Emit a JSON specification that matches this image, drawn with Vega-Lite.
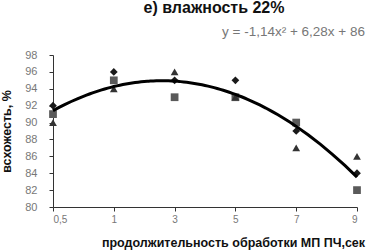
{
  "$schema": "https://vega.github.io/schema/vega-lite/v6.json",
  "width": 304,
  "height": 152,
  "autosize": {"type": "none"},
  "padding": {"left": 53, "top": 55, "right": 19, "bottom": 45},
  "background": "white",
  "title": {
    "text": "е) влажность 22%",
    "font": "Liberation Sans",
    "fontSize": 16,
    "fontWeight": "bold",
    "color": "#111",
    "anchor": "middle",
    "dx": 9,
    "offset": 9
  },
  "config": {
    "view": {"stroke": null},
    "font": "Liberation Sans"
  },
  "data": {
    "values": [
      {"i": 1, "s": "A", "y": 92},
      {"i": 1, "s": "B", "y": 91},
      {"i": 1, "s": "C", "y": 90},
      {"i": 2, "s": "A", "y": 96},
      {"i": 2, "s": "B", "y": 95},
      {"i": 2, "s": "C", "y": 94},
      {"i": 3, "s": "A", "y": 95},
      {"i": 3, "s": "B", "y": 93},
      {"i": 3, "s": "C", "y": 96},
      {"i": 4, "s": "A", "y": 95},
      {"i": 4, "s": "B", "y": 93},
      {"i": 4, "s": "C", "y": 93},
      {"i": 5, "s": "A", "y": 89},
      {"i": 5, "s": "B", "y": 90},
      {"i": 5, "s": "C", "y": 87},
      {"i": 6, "s": "A", "y": 84},
      {"i": 6, "s": "B", "y": 82},
      {"i": 6, "s": "C", "y": 86}
    ]
  },
  "encoding": {
    "x": {
      "field": "i", "type": "quantitative",
      "scale": {"domain": [1, 6], "nice": false, "zero": false},
      "axis": {
        "values": [1, 2, 3, 4, 5, 6],
        "labelExpr": "['0,5','1','3','5','7','9'][datum.value-1]",
        "labelOverlap": false,
        "grid": false,
        "domainColor": "#333",
        "tickColor": "#333",
        "tickSize": 4,
        "labelColor": "#777",
        "labelFontSize": 10,
        "labelPadding": 3,
        "title": "продолжительность обработки МП ПЧ,сек",
        "titleFontSize": 12.5,
        "titleFontWeight": "bold",
        "titleColor": "#111",
        "titleX": 180,
        "titlePadding": 12
      }
    },
    "y": {
      "field": "y", "type": "quantitative",
      "scale": {"domain": [80, 98], "nice": false, "zero": false},
      "axis": {
        "values": [80, 82, 84, 86, 88, 90, 92, 94, 96, 98],
        "labelOverlap": false,
        "grid": false,
        "domainColor": "#333",
        "tickColor": "#333",
        "tickSize": 4,
        "labelColor": "#777",
        "labelFontSize": 11,
        "labelPadding": 12,
        "title": "всхожесть, %",
        "titleFontSize": 12.5,
        "titleFontWeight": "bold",
        "titleColor": "#111",
        "titlePadding": 11
      }
    }
  },
  "layer": [
    {
      "mark": {"type": "point", "filled": true, "opacity": 1, "size": 60},
      "encoding": {
        "shape": {
          "field": "s", "type": "nominal",
          "scale": {"domain": ["A", "B", "C"], "range": ["diamond", "square", "triangle-up"]},
          "legend": null
        },
        "color": {
          "field": "s", "type": "nominal",
          "scale": {"domain": ["A", "B", "C"], "range": ["#1a1a1a", "#5a5a5a", "#333333"]},
          "legend": null
        }
      }
    },
    {
      "transform": [
        {"regression": "y", "on": "i", "method": "poly", "order": 2, "extent": [1, 6]}
      ],
      "mark": {"type": "line", "color": "#000", "strokeWidth": 3},
      "encoding": {}
    },
    {
      "data": {"values": [{"label": "y = -1,14x² + 6,28x + 86", "i": 6, "y": 100.2}]},
      "mark": {"type": "text", "align": "right", "baseline": "alphabetic", "fontSize": 13.5, "color": "#777", "clip": false, "dx": 8},
      "encoding": {
        "text": {"field": "label"}
      }
    }
  ]
}
